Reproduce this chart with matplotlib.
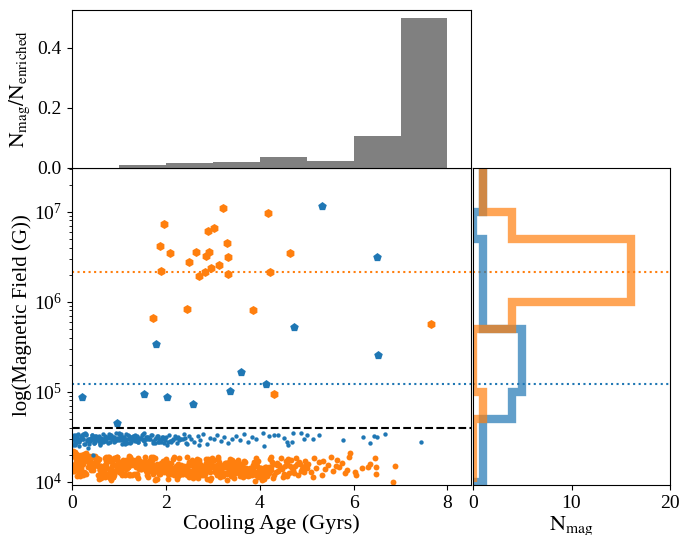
import numpy as np
import matplotlib
matplotlib.use('Agg')
from matplotlib import pyplot as plt

plt.rcParams['font.family'] = ['Liberation Serif', 'DejaVu Serif']
plt.rcParams['mathtext.fontset'] = 'stix'

# fraction of enriched white dwarfs that are magnetic, 1 Gyr age bins
frac_bin_left = [1, 2, 3, 4, 5, 6, 7]
frac_mag = [0.0087, 0.018, 0.021, 0.035, 0.024, 0.105, 0.5]

# magnetic detections (age in Gyr, log10 B in G)
blue_mag_age = [0.22, 0.97, 1.54, 1.80, 2.02, 2.59, 3.38, 3.61, 4.14, 4.73, 5.32, 6.49, 6.51]
blue_mag_logB = [4.94, 4.65, 4.98, 5.53, 4.94, 4.86, 5.01, 5.22, 5.09, 5.72, 7.06, 6.50, 5.41]

orange_mag_age = [3.22, 1.97, 2.91, 3.02, 4.17, 1.88, 2.10, 2.64, 2.92, 2.85, 3.30, 3.33, 4.64,
                  2.49, 1.90, 3.13, 2.96, 2.83, 2.71, 3.32, 4.23, 2.45, 3.86, 1.73, 7.64, 4.30]
orange_mag_logB = [7.04, 6.86, 6.79, 6.82, 6.99, 6.62, 6.54, 6.55, 6.55, 6.51, 6.65, 6.50, 6.54,
                   6.44, 6.34, 6.41, 6.38, 6.33, 6.29, 6.31, 6.33, 5.92, 5.91, 5.82, 5.75, 4.98]

# non-detections (upper limits)
blue_cloud_age = [
    0.02, 0.05, 0.08, 0.11, 0.03, 0.14, 0.18, 0.21, 0.07, 0.25, 0.29, 0.33, 0.12, 0.37, 0.41,
    0.45, 0.22, 0.49, 0.53, 0.57, 0.31, 0.61, 0.66, 0.70, 0.40, 0.74, 0.78, 0.83, 0.52, 0.87,
    0.91, 0.95, 0.63, 0.99, 1.03, 1.08, 0.76, 1.12, 1.16, 1.21, 0.89, 1.25, 1.29, 1.34, 1.02,
    1.38, 1.42, 1.47, 1.15, 1.51, 1.55, 1.60, 1.28, 1.64, 1.68, 1.73, 1.41, 1.77, 1.81, 1.86,
    1.54, 1.90, 1.94, 1.99, 1.67, 2.03, 2.07, 2.12, 1.80, 2.16, 2.20, 2.25, 1.93, 2.29, 2.33,
    2.38, 2.06, 2.42, 2.46, 2.50, 0.16, 0.58, 1.09, 1.49, 1.97, 2.36, 0.44, 0.93, 1.36, 1.85,
    2.55, 2.61, 2.68, 2.74, 2.80, 2.88, 2.95, 3.02, 3.10, 3.17, 3.25, 3.33, 3.41, 3.50, 3.58,
    3.66, 3.75, 3.84, 3.92, 2.71,
    4.07, 4.19, 4.30, 4.40, 4.09, 4.58, 4.72, 4.88, 5.00, 4.70, 4.60, 5.14, 5.26, 5.78, 6.20,
    6.34, 6.44, 6.50, 6.68, 7.43, 4.52, 4.95, 0.46, 0.35,
    0.06, 0.19, 0.34, 0.48, 0.62, 0.79, 0.95, 1.11, 1.27, 1.43, 0.10, 0.27, 0.41, 0.56, 0.71,
    0.86, 1.00, 1.18, 1.33, 1.52, 0.01, 0.15, 0.30, 0.45, 0.60, 0.74, 0.90, 1.05, 1.22, 1.39,
    0.08, 0.23, 0.38, 0.52, 0.67, 0.82, 0.97, 1.14, 1.30, 1.58,
    0.04, 0.13, 0.24, 0.36, 0.47, 0.58, 0.69, 0.81, 0.92, 1.04, 1.15, 1.26, 1.37, 1.49, 1.61,
    1.72, 1.84, 1.96, 2.09, 2.23, 0.09, 0.20, 0.32, 0.43, 0.55, 0.66, 0.77, 0.88, 1.00, 1.12,
    1.23, 1.35, 1.46, 1.57, 1.70, 1.83, 2.00, 2.15, 2.31, 2.44, 0.17, 0.28, 0.50, 0.73, 0.84,
    0.99, 1.20, 1.41, 1.63, 1.78, 0.26, 0.39, 0.61, 0.80, 1.06, 1.31, 1.53, 1.92, 2.11, 2.27,
]
blue_cloud_logB = [
    4.47, 4.52, 4.44, 4.49, 4.41, 4.53, 4.46, 4.50, 4.43, 4.48, 4.54, 4.45, 4.51, 4.42, 4.49,
    4.47, 4.52, 4.44, 4.50, 4.46, 4.53, 4.41, 4.48, 4.51, 4.45, 4.49, 4.43, 4.52, 4.47, 4.50,
    4.44, 4.54, 4.46, 4.48, 4.51, 4.42, 4.49, 4.45, 4.53, 4.47, 4.50, 4.43, 4.48, 4.52, 4.46,
    4.51, 4.44, 4.49, 4.47, 4.53, 4.42, 4.50, 4.46, 4.48, 4.52, 4.45, 4.49, 4.43, 4.51, 4.47,
    4.54, 4.44, 4.50, 4.46, 4.48, 4.41, 4.52, 4.45, 4.49, 4.47, 4.51, 4.43, 4.50, 4.46, 4.48,
    4.53, 4.44, 4.49, 4.42, 4.51, 4.40, 4.45, 4.50, 4.47, 4.43, 4.48, 4.52, 4.46, 4.49, 4.44,
    4.48, 4.44, 4.51, 4.46, 4.53, 4.42, 4.49, 4.47, 4.52, 4.45, 4.50, 4.43, 4.48, 4.51, 4.46,
    4.53, 4.44, 4.50, 4.47, 4.41,
    4.54, 4.51, 4.52, 4.52, 4.40, 4.44, 4.54, 4.54, 4.52, 4.44, 4.41, 4.48, 4.52, 4.46, 4.50,
    4.43, 4.51, 4.50, 4.53, 4.44, 4.49, 4.47, 4.30, 4.37,
    4.45, 4.51, 4.47, 4.43, 4.49, 4.53, 4.46, 4.50, 4.44, 4.48, 4.52, 4.42, 4.48, 4.50, 4.45,
    4.47, 4.54, 4.43, 4.51, 4.46, 4.49, 4.44, 4.52, 4.47, 4.42, 4.50, 4.46, 4.53, 4.48, 4.45,
    4.41, 4.48, 4.45, 4.51, 4.53, 4.44, 4.49, 4.42, 4.47, 4.50,
    4.50, 4.46, 4.53, 4.48, 4.43, 4.51, 4.47, 4.52, 4.45, 4.49, 4.44, 4.50, 4.46, 4.52, 4.48,
    4.43, 4.51, 4.47, 4.45, 4.49, 4.43, 4.49, 4.46, 4.52, 4.47, 4.44, 4.50, 4.48, 4.53, 4.46,
    4.51, 4.45, 4.49, 4.47, 4.52, 4.44, 4.50, 4.46, 4.48, 4.43, 4.48, 4.42, 4.51, 4.45, 4.49,
    4.46, 4.52, 4.44, 4.50, 4.47, 4.53, 4.47, 4.43, 4.49, 4.46, 4.51, 4.45, 4.48, 4.44, 4.50,
]

orange_cloud_age = [
    0.03, 2.11, 0.87, 3.55, 1.42, 0.31, 2.78, 4.05, 1.96, 0.64, 3.21, 1.13, 2.45, 0.19, 3.87, 1.71, 2.97, 0.52, 3.40, 2.29,
    1.58, 0.11, 3.02, 2.33, 0.76, 3.91, 1.27, 2.62, 0.44, 4.14, 1.85, 0.97, 3.33, 2.06, 0.25, 3.68, 1.39, 2.86, 0.58, 3.15,
    2.52, 0.38, 1.07, 3.77, 2.18, 0.69, 3.46, 1.64, 0.05, 2.91, 4.11, 1.31, 0.83, 3.24, 2.40, 1.78, 0.16, 3.59, 2.71, 1.02,
    0.92, 3.63, 1.49, 0.27, 2.67, 3.98, 2.01, 0.71, 1.19, 3.29, 2.55, 0.48, 3.81, 1.67, 0.08, 2.24, 3.09, 1.36, 4.19, 2.83,
    3.71, 1.23, 0.35, 2.49, 3.17, 0.81, 1.91, 2.74, 0.14, 3.50, 1.55, 4.02, 0.60, 2.15, 3.37, 1.05, 2.95, 0.41, 1.80, 3.93,
    0.22, 2.58, 3.85, 1.10, 0.67, 3.26, 1.73, 2.37, 0.96, 4.08, 2.87, 1.44, 0.02, 3.12, 2.09, 0.54, 3.74, 1.29, 2.65, 1.99,
    1.34, 3.44, 0.13, 2.21, 0.89, 3.05, 1.62, 3.96, 2.43, 0.47, 1.88, 2.80, 0.73, 3.57, 1.16, 2.12, 0.30, 3.36, 4.16, 2.60,
    2.97, 0.57, 1.76, 3.66, 0.07, 2.31, 1.21, 3.19, 0.85, 2.69, 3.89, 1.47, 0.39, 2.04, 3.48, 0.99, 1.93, 2.50, 0.20, 3.79,
    0.66, 1.98, 3.23, 0.17, 2.76, 1.37, 4.12, 0.79, 2.27, 3.61, 1.06, 2.90, 0.45, 1.70, 3.31, 2.16, 0.09, 3.84, 1.52, 2.40,
    3.53, 0.28, 2.63, 1.15, 3.99, 0.93, 1.83, 3.07, 0.50, 2.35, 1.60, 3.72, 0.04, 2.84, 1.26, 3.39, 0.70, 2.08, 4.09, 1.43,
    1.90, 3.14, 0.62, 2.54, 0.10, 3.80, 1.33, 2.19, 0.88, 3.42, 2.72, 0.33, 1.66, 3.95, 1.01, 2.99, 0.55, 3.28, 2.26, 1.74,
    0.42, 2.88, 1.57, 3.64, 0.24, 2.13, 3.35, 1.11, 0.77, 3.03, 1.95, 2.59, 0.15, 3.90, 1.40, 2.46, 0.94, 3.58, 1.22, 4.15,
    2.66, 0.06, 3.47, 1.81, 0.61, 2.93, 1.18, 3.75, 0.36, 2.23, 4.00, 1.53, 0.82, 3.11, 2.02, 0.26, 3.52, 1.69, 2.81, 0.98,
    1.09, 3.83, 0.49, 2.39, 3.20, 0.16, 1.61, 2.75, 0.72, 3.62, 1.30, 2.10, 0.00, 3.41, 2.57, 0.86, 1.87, 3.97, 0.37, 2.98,
    3.30, 1.45, 0.21, 2.70, 1.04, 3.70, 0.59, 2.28, 3.94, 1.77, 0.12, 2.85, 1.24, 3.16, 0.80, 2.47, 1.59, 3.54, 0.43, 2.17,
    0.18, 1.26, 2.34, 3.42, 0.72, 1.80, 2.88, 3.96, 0.45, 1.53, 2.61, 3.69, 0.99, 2.07, 3.15, 4.23, 0.27, 1.35, 2.43, 3.51,
    0.81, 1.89, 2.97, 4.05, 0.54, 1.62, 2.70, 3.78, 0.09, 1.17, 2.25, 3.33, 0.63, 1.71, 2.79, 3.87, 0.36, 1.44, 2.52, 3.60,
    1.08, 2.16, 3.24, 0.00, 0.90, 1.98, 3.06, 4.14, 0.59, 1.67, 2.75, 3.83, 0.32, 1.40, 2.48, 3.56, 0.77, 1.85, 2.93, 4.01,
    0.14, 1.22, 2.30, 3.38, 0.68, 1.76, 2.84, 3.92, 0.41, 1.49, 2.57, 3.65, 0.95, 2.03, 3.11, 4.19, 0.23, 1.31, 2.39, 3.47,
    0.86, 1.94, 3.02, 4.10, 0.50, 1.58, 2.66, 3.74, 0.05, 1.13, 2.21, 3.29, 0.61, 1.69, 2.77, 3.85, 0.34, 1.42, 2.50, 3.58,
    1.04, 2.12, 3.20, 4.28, 0.88, 1.96, 3.04, 0.16, 1.24, 2.32, 3.40, 0.70, 1.78, 2.86, 3.94, 0.43, 1.51, 2.59, 3.67, 0.97,
    2.05, 3.13, 4.21, 0.25, 1.33, 2.41, 3.49, 0.79, 1.87, 2.95, 4.03, 0.52, 1.60, 2.68, 3.76, 0.07, 1.15, 2.23, 3.31, 0.61,
    1.69, 2.73, 3.81, 0.38, 1.46, 2.54, 3.62, 0.92, 2.00, 3.08, 4.16, 0.11, 1.19, 2.27, 3.35, 0.65, 1.73, 2.81, 3.89, 0.29,
    1.37, 2.45, 3.53, 0.83, 1.91, 2.99, 4.07, 0.47, 1.55, 2.63, 3.71, 0.20, 1.28, 2.36, 3.44, 0.74, 1.82, 2.90, 3.98, 0.56,
    1.64, 2.72, 3.80, 0.02, 1.10, 2.18, 3.26, 4.12, 0.40, 1.48, 2.56, 3.64, 0.94, 2.02, 3.10, 0.13, 1.21, 2.29, 3.37, 4.25,
    4.22, 4.27, 4.31, 4.36, 4.40, 4.45, 4.49, 4.54, 4.58, 4.63, 4.67, 4.72, 4.76, 4.81, 4.86, 4.91, 4.96, 4.25, 4.34, 4.43,
    4.52, 4.61, 4.70, 4.79, 4.88, 4.97, 4.29, 4.38, 4.47, 4.56, 4.65, 4.74, 4.83, 4.92, 4.24, 4.41, 4.59, 4.77, 4.94, 5.00,
    5.04, 5.10, 5.16, 5.21, 5.27, 5.33, 5.40, 5.46, 5.51, 5.57, 5.62, 5.65, 5.70, 5.76, 5.82, 5.90, 5.93, 6.04, 6.06, 6.18,
    6.31, 6.35, 6.45, 6.47, 6.47, 6.84, 6.89, 5.13, 5.36, 5.86,
]
orange_cloud_logB = [
    4.12, 4.21, 4.05, 4.17, 4.26, 4.09, 4.14, 4.02, 4.23, 4.11, 4.18, 4.07, 4.28, 4.15, 4.10, 4.20, 4.04, 4.25, 4.13, 4.08,
    4.19, 4.06, 4.24, 4.10, 4.15, 4.01, 4.22, 4.13, 4.29, 4.08, 4.16, 4.27, 4.11, 4.03, 4.20, 4.14, 4.09, 4.25, 4.18, 4.12,
    4.07, 4.23, 4.14, 4.10, 4.28, 4.17, 4.04, 4.21, 4.12, 4.16, 4.09, 4.24, 4.02, 4.19, 4.13, 4.26, 4.11, 4.06, 4.22, 4.15,
    4.25, 4.11, 4.18, 4.31, 4.08, 4.14, 4.22, 4.05, 4.16, 4.20, 4.12, 4.27, 4.09, 4.13, 4.33, 4.03, 4.19, 4.24, 4.10, 4.17,
    4.14, 4.09, 4.26, 4.12, 4.19, 4.04, 4.21, 4.16, 4.30, 4.11, 4.23, 4.07, 4.18, 4.13, 4.25, 4.10, 4.02, 4.20, 4.15, 4.08,
    4.10, 4.18, 4.13, 4.24, 4.06, 4.21, 4.15, 4.09, 4.27, 4.12, 4.03, 4.19, 4.34, 4.16, 4.11, 4.22, 4.14, 4.07, 4.20, 4.17,
    4.21, 4.13, 4.08, 4.17, 4.26, 4.11, 4.05, 4.23, 4.14, 4.19, 4.10, 4.16, 4.28, 4.12, 4.24, 4.09, 4.32, 4.15, 4.06, 4.20,
    4.16, 4.24, 4.11, 4.07, 4.20, 4.13, 4.29, 4.10, 4.18, 4.04, 4.22, 4.14, 4.26, 4.09, 4.17, 4.12, 4.21, 4.05, 4.30, 4.15,
    4.11, 4.19, 4.06, 4.23, 4.14, 4.09, 4.16, 4.27, 4.12, 4.20, 4.08, 4.25, 4.13, 4.18, 4.02, 4.15, 4.31, 4.10, 4.22, 4.17,
    4.18, 4.10, 4.22, 4.14, 4.07, 4.26, 4.12, 4.17, 4.29, 4.09, 4.21, 4.15, 4.33, 4.11, 4.24, 4.06, 4.19, 4.13, 4.03, 4.16,
    4.13, 4.22, 4.17, 4.08, 4.25, 4.12, 4.19, 4.15, 4.05, 4.21, 4.10, 4.28, 4.14, 4.18, 4.11, 4.23, 4.07, 4.16, 4.20, 4.09,
    4.20, 4.12, 4.27, 4.16, 4.30, 4.10, 4.14, 4.22, 4.08, 4.18, 4.13, 4.04, 4.24, 4.11, 4.19, 4.15, 4.26, 4.09, 4.21, 4.07,
    4.15, 4.32, 4.10, 4.20, 4.13, 4.17, 4.24, 4.06, 4.21, 4.14, 4.09, 4.19, 4.12, 4.25, 4.16, 4.29, 4.11, 4.18, 4.08, 4.23,
    4.17, 4.08, 4.21, 4.12, 4.15, 4.26, 4.19, 4.10, 4.23, 4.14, 4.20, 4.11, 4.31, 4.16, 4.09, 4.22, 4.13, 4.05, 4.27, 4.18,
    4.09, 4.16, 4.23, 4.13, 4.20, 4.07, 4.25, 4.11, 4.18, 4.02, 4.14, 4.21, 4.28, 4.15, 4.10, 4.19, 4.12, 4.24, 4.17, 4.08,
    4.06, 4.19, 4.12, 4.24, 4.15, 4.03, 4.21, 4.10, 4.27, 4.17, 4.08, 4.22, 4.14, 4.18, 4.05, 4.25, 4.11, 4.20, 4.16, 4.13,
    4.23, 4.09, 4.17, 4.13, 4.26, 4.11, 4.19, 4.07, 4.22, 4.15, 4.12, 4.18, 4.04, 4.24, 4.16, 4.10, 4.29, 4.14, 4.21, 4.08,
    4.14, 4.25, 4.10, 4.18, 4.07, 4.21, 4.13, 4.16, 4.03, 4.24, 4.19, 4.11, 4.23, 4.06, 4.17, 4.12, 4.27, 4.09, 4.20, 4.15,
    4.20, 4.07, 4.15, 4.22, 4.11, 4.18, 4.09, 4.26, 4.13, 4.17, 4.24, 4.05, 4.19, 4.12, 4.28, 4.14, 4.08, 4.21, 4.16, 4.10,
    4.11, 4.23, 4.18, 4.06, 4.20, 4.14, 4.25, 4.12, 4.17, 4.09, 4.15, 4.21, 4.13, 4.27, 4.08, 4.19, 4.16, 4.04, 4.22, 4.18,
    4.17, 4.13, 4.09, 4.20, 4.24, 4.11, 4.16, 4.22, 4.07, 4.19, 4.14, 4.26, 4.12, 4.15, 4.10, 4.21, 4.18, 4.06, 4.23, 4.13,
    4.12, 4.20, 4.16, 4.26, 4.09, 4.14, 4.22, 4.05, 4.18, 4.11, 4.15, 4.23, 4.08, 4.19, 4.13, 4.28, 4.17, 4.10, 4.21, 4.14,
    4.21, 4.10, 4.14, 4.17, 4.23, 4.08, 4.19, 4.12, 4.25, 4.15, 4.11, 4.20, 4.16, 4.06, 4.22, 4.13, 4.27, 4.09, 4.18, 4.24,
    4.16, 4.08, 4.22, 4.13, 4.19, 4.26, 4.10, 4.17, 4.14, 4.21, 4.07, 4.18, 4.24, 4.11, 4.15, 4.20, 4.03, 4.23, 4.12, 4.17,
    4.13, 4.24, 4.07, 4.18, 4.21, 4.11, 4.16, 4.09, 4.25, 4.14, 4.20, 4.12, 4.17, 4.22, 4.08, 4.15, 4.19, 4.26, 4.10, 4.16,
    4.15, 4.22, 4.08, 4.19, 4.12, 4.26, 4.05, 4.17, 4.21, 4.10, 4.24, 4.13, 4.18, 4.07, 4.20, 4.14, 4.23, 4.27, 4.11, 4.16,
    4.09, 4.25, 4.15, 4.20, 4.12, 4.18, 4.04, 4.21, 4.14, 4.23, 4.17, 4.10, 4.22, 4.16, 4.13, 4.19, 4.06, 4.26, 4.11, 4.15,
    4.20, 4.11, 4.26, 4.15, 4.22, 4.08, 4.14, 4.19, 4.28, 4.12, 4.18, 4.24, 4.16, 4.21, 4.10, 4.27, 4.32, 4.11, 4.08, 4.15,
    4.16, 4.20, 4.26, 4.16, 4.09, 4.00, 4.18, 4.05, 4.23, 4.13,
]

detection_limit = 4.0e4
median_logB = {'C0': 5.09, 'C1': 6.33}
field_bins = [1e4, 5e4, 1e5, 5e5, 1e6, 5e6, 1e7, 5e7]

fig = plt.figure(figsize=(6.81, 5.35), dpi=100)
ax = fig.add_axes([0.1053, 0.0935, 0.5863, 0.5925])
ax_top = fig.add_axes([0.1053, 0.686, 0.5863, 0.2953], sharex=ax)
ax_right = fig.add_axes([0.6946, 0.0935, 0.2893, 0.5925], sharey=ax)

# main panel
ax.scatter(orange_cloud_age, 10 ** np.array(orange_cloud_logB), s=18, color='C1', lw=0)
ax.scatter(blue_cloud_age, 10 ** np.array(blue_cloud_logB), s=10, color='C0', lw=0)
ax.scatter(blue_mag_age, 10 ** np.array(blue_mag_logB), s=42, marker='p', color='C0', lw=0)
ax.scatter(orange_mag_age, 10 ** np.array(orange_mag_logB), s=42, marker='h', color='C1', lw=0)
ax.axhline(detection_limit, color='k', ls='--', lw=1.5)
for c, m in median_logB.items():
    ax.axhline(10 ** m, color=c, ls=':', lw=1.5)
    ax_right.axhline(10 ** m, color=c, ls=':', lw=1.5)

ax.set_yscale('log')
ax.set_xlim(0, 8.5)
ax.set_ylim(9.2e3, 3.06e7)
ax.set_xticks([0, 2, 4, 6, 8])
ax.set_xlabel('Cooling Age (Gyrs)', fontsize=16, labelpad=2)
ax.set_ylabel('log(Magnetic Field (G))', fontsize=15)
ax.tick_params(labelsize=14)

# top panel
ax_top.bar(frac_bin_left, frac_mag, width=1, align='edge', color='grey')
ax_top.set_ylim(0, 0.525)
ax_top.set_yticks([0.0, 0.2, 0.4])
ax_top.tick_params(axis='x', bottom=False, labelbottom=False)
ax_top.tick_params(axis='y', labelsize=14)
ax_top.set_ylabel(r'$\mathrm{N_{mag}/N_{enriched}}$', fontsize=15.5)

# right panel
ax_right.hist(10 ** np.array(blue_mag_logB), bins=field_bins, orientation='horizontal',
              histtype='step', color='C0', lw=6, alpha=0.7)
ax_right.hist(10 ** np.array(orange_mag_logB), bins=field_bins, orientation='horizontal',
              histtype='step', color='C1', lw=6, alpha=0.7)
ax_right.set_xlim(0, 20)
ax_right.set_xticks([0, 10, 20])
ax_right.tick_params(axis='y', which='both', left=False, labelleft=False)
ax_right.tick_params(axis='x', labelsize=14)
ax_right.set_xlabel(r'$\mathrm{N_{mag}}$', fontsize=16, labelpad=2)

ax.yaxis.set_label_coords(-0.1, 0.535)
ax_top.yaxis.set_label_coords(-0.1, 0.5)

fig.savefig('out.png', dpi=100)
